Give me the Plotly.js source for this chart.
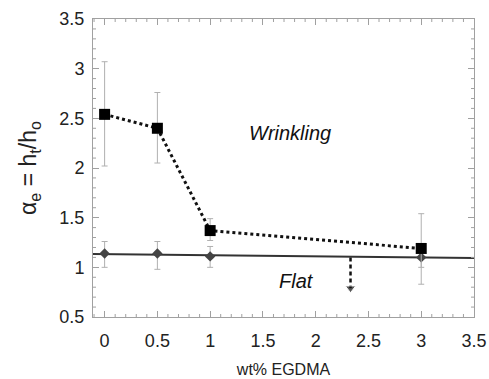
<!DOCTYPE html>
<html><head><meta charset="utf-8">
<script src="https://cdn.plot.ly/plotly-3.0.1.min.js"></script>
<style>html,body{margin:0;padding:0;background:#fff}#c{width:489px;height:379px}</style>
</head><body><div id="c"></div>
<script>
var egdma = [0, 0.5, 1, 3];
var wrinkAlpha = [2.54, 2.40, 1.37, 1.19];
var wrinkErrPlus = [0.53, 0.36, 0.12, 0.35];
var wrinkErrMinus = [0.52, 0.35, 0.10, 0.36];
var flatAlpha = [1.14, 1.14, 1.11, 1.10];
var flatErrPlus = [0.12, 0.12, 0.10, 0.10];
var flatErrMinus = [0.14, 0.16, 0.11, 0.10];
var fitX = [-0.11, 3.5];
var fitY = [1.135, 1.095];
var arrowX = [2.33, 2.33];
var arrowY = [1.10, 0.79];
var xRange = [-0.11, 3.5];
var yRange = [0.5, 3.5];
var xTickStep = 0.5;
var yTickStep = 0.5;
var minorStep = 0.1;

var errGray = '#b0b0b0';
var tickGray = '#a0a0a0';
var traces = [
  {x: fitX, y: fitY, mode: 'lines', line: {color: '#333', width: 2}, hoverinfo: 'skip'},
  {x: egdma, y: flatAlpha, mode: 'markers',
   marker: {symbol: 'diamond', size: 8, color: '#444'},
   error_y: {type: 'data', symmetric: false, array: flatErrPlus, arrayminus: flatErrMinus, color: errGray, thickness: 1, width: 3}},
  {x: egdma, y: wrinkAlpha, mode: 'lines+markers',
   line: {color: '#111', width: 3, dash: 'dot'},
   marker: {symbol: 'square', size: 11, color: '#000'},
   error_y: {type: 'data', symmetric: false, array: wrinkErrPlus, arrayminus: wrinkErrMinus, color: errGray, thickness: 1, width: 3}},
  {x: arrowX, y: arrowY, mode: 'lines+markers', line: {color: '#111', width: 2.5, dash: '4px,3px'},
   marker: {symbol: 'triangle-down', size: [0, 9], color: '#111'}}
];

// minor tick marks (axis decoration) built from the axis ranges and step
var shapes = [];
function isMajor(v, step) { var r = v / step; return Math.abs(r - Math.round(r)) < 1e-6; }
for (var k = Math.ceil(xRange[0] / minorStep); k * minorStep <= xRange[1] + 1e-9; k++) {
  var xv = +(k * minorStep).toFixed(6);
  if (isMajor(xv, xTickStep)) continue;
  [[0, 3], [1, -3]].forEach(function (a) {
    shapes.push({type: 'line', xref: 'x', yref: 'paper', ysizemode: 'pixel', yanchor: a[0],
      x0: xv, x1: xv, y0: 0, y1: a[1], line: {color: tickGray, width: 1}});
  });
}
for (var j = Math.ceil(yRange[0] / minorStep); j * minorStep <= yRange[1] + 1e-9; j++) {
  var yv = +(j * minorStep).toFixed(6);
  if (isMajor(yv, yTickStep)) continue;
  [[0, 3], [1, -3]].forEach(function (a) {
    shapes.push({type: 'line', xref: 'paper', yref: 'y', xsizemode: 'pixel', xanchor: a[0],
      y0: yv, y1: yv, x0: 0, x1: a[1], line: {color: tickGray, width: 1}});
  });
}

var axisCommon = {
  showline: true, linecolor: tickGray, linewidth: 1, mirror: 'ticks',
  ticks: 'inside', ticklen: 6, tickcolor: tickGray, tickwidth: 1,
  showgrid: false, zeroline: false, tickmode: 'linear',
  tickfont: {family: 'Liberation Sans, Arial', size: 18, color: '#222'}
};

var layout = {
  width: 489, height: 379,
  margin: {l: 93, r: 15, t: 19, b: 62},
  paper_bgcolor: '#fff', plot_bgcolor: '#fff',
  showlegend: false,
  font: {family: 'Liberation Sans, Arial', color: '#222'},
  xaxis: Object.assign({}, axisCommon, {
    range: xRange, tick0: 0, dtick: xTickStep, ticklabelstandoff: 7,
    title: {text: 'wt% EGDMA', font: {size: 16, color: '#222'}, standoff: 14}
  }),
  yaxis: Object.assign({}, axisCommon, {
    range: yRange, tick0: 0.5, dtick: yTickStep, ticklabelstandoff: 4,
    title: {text: 'α<sub>e</sub> = h<sub>t</sub>/h<sub>o</sub>', font: {size: 23, color: '#222'}, standoff: 16}
  }),
  shapes: shapes,
  annotations: [
    {x: 1.76, y: 2.35, xref: 'x', yref: 'y', text: '<i>Wrinkling</i>', showarrow: false,
     font: {size: 20, color: '#111'}},
    {x: 1.82, y: 0.86, xref: 'x', yref: 'y', text: '<i>Flat</i>', showarrow: false,
     font: {size: 20, color: '#111'}}
  ]
};

Plotly.newPlot('c', traces, layout, {displayModeBar: false, staticPlot: true});
</script></body></html>
